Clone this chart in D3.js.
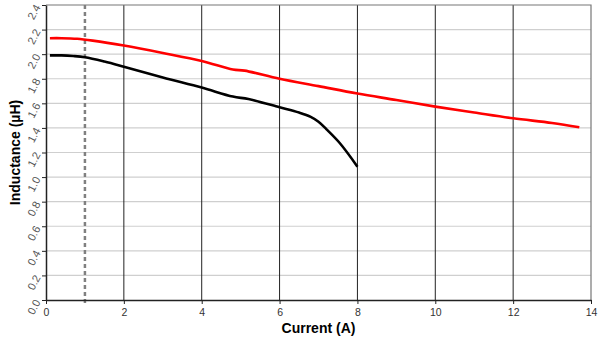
<!DOCTYPE html>
<html>
<head>
<meta charset="utf-8">
<script src="https://cdn.jsdelivr.net/npm/d3@7"></script>
<style>
  body { margin: 0; background: #fff; }
  svg { display: block; }
</style>
</head>
<body>
<div id="chart"></div>
<script>
// Data
const redCurrent = [0.1, 0.4, 0.8, 1.2, 2, 3, 4, 4.8, 5.1, 6, 7, 8, 9, 10, 11, 12, 13, 13.7];
const redInductance = [2.13, 2.13, 2.125, 2.11, 2.07, 2.01, 1.945, 1.875, 1.866, 1.80, 1.74, 1.68, 1.627, 1.573, 1.525, 1.478, 1.44, 1.405];

const blackCurrent = [0.1, 0.4, 0.7, 1, 1.5, 2, 3, 4, 4.8, 5.2, 6, 6.5, 6.8, 7.0, 7.2, 7.55, 8];
const blackInductance = [1.99, 1.99, 1.985, 1.975, 1.94, 1.898, 1.81, 1.728, 1.655, 1.635, 1.568, 1.525, 1.49, 1.45, 1.39, 1.275, 1.085];

const xTicks = [0, 2, 4, 6, 8, 10, 12, 14];
const yTicks = [0, 0.2, 0.4, 0.6, 0.8, 1.0, 1.2, 1.4, 1.6, 1.8, 2.0, 2.2, 2.4];
const dashedCurrent = 1;

const width = 600, height = 346;
const margin = { left: 46, right: 9, top: 5, bottom: 46 };

const svg = d3.select("#chart")
    .append("svg")
        .attr("width", width)
        .attr("height", height);

const xScale = d3.scaleLinear()
    .domain([0, 14])
    .range([margin.left, width - margin.right]);

const yScale = d3.scaleLinear()
    .domain([0, 2.4])
    .range([height - margin.bottom, margin.top]);

// Horizontal grid lines
svg.append("g")
    .selectAll("line")
    .data(yTicks.slice(1, -1))
    .join("line")
        .attr("x1", xScale(0))
        .attr("x2", xScale(14))
        .attr("y1", d => yScale(d))
        .attr("y2", d => yScale(d))
        .attr("stroke", "#cfcfcf")
        .attr("stroke-width", 1.2);

// Vertical grid lines
svg.append("g")
    .selectAll("line")
    .data(xTicks.slice(1, -1))
    .join("line")
        .attr("x1", d => xScale(d))
        .attr("x2", d => xScale(d))
        .attr("y1", yScale(0))
        .attr("y2", yScale(2.4))
        .attr("stroke", "#222")
        .attr("stroke-width", 1);

// Plot border (top and right)
svg.append("path")
    .attr("d", `M${xScale(0)},${yScale(2.4)}H${xScale(14)}V${yScale(0)}`)
    .attr("fill", "none")
    .attr("stroke", "#777")
    .attr("stroke-width", 1.2);

// Dashed marker line
svg.append("line")
    .attr("x1", xScale(dashedCurrent))
    .attr("x2", xScale(dashedCurrent))
    .attr("y1", yScale(2.4))
    .attr("y2", yScale(0) + 3)
    .attr("stroke", "#808080")
    .attr("stroke-width", 2.5)
    .attr("stroke-dasharray", "4,3");

// Axes
const xAxis = svg.append("g")
    .attr("transform", `translate(0, ${yScale(0)})`)
    .call(d3.axisBottom(xScale).tickValues(xTicks).tickSize(4).tickSizeOuter(0).tickFormat(d3.format("d")));

xAxis.select(".domain").attr("stroke", "#222").attr("stroke-width", 1.5);
xAxis.selectAll(".tick line").attr("stroke", "#222");
xAxis.selectAll("text")
    .attr("dy", "0.85em")
    .style("font-family", "'Liberation Sans', Arial, sans-serif")
    .style("font-size", "10.5px")
    .style("fill", "#333");

const yAxis = svg.append("g")
    .attr("transform", `translate(${xScale(0)}, 0)`)
    .call(d3.axisLeft(yScale).tickValues(yTicks).tickSize(4).tickSizeOuter(0).tickFormat(d3.format(".1f")));

yAxis.select(".domain").attr("stroke", "#222").attr("stroke-width", 1.5);
yAxis.selectAll(".tick line").attr("stroke", "#222");
yAxis.selectAll("text")
    .attr("x", -8)
    .attr("dy", "0.3em")
    .attr("transform", "rotate(-62, -8, 0)")
    .attr("text-anchor", "end")
    .style("font-family", "'Liberation Sans', Arial, sans-serif")
    .style("font-size", "11px")
    .style("fill", "#555");

// Curves
const line = d3.line()
    .x(d => xScale(d[0]))
    .y(d => yScale(d[1]))
    .curve(d3.curveCatmullRom.alpha(0.5));

svg.append("path")
    .datum(blackCurrent.map((c, i) => [c, blackInductance[i]]))
    .attr("d", line)
    .attr("fill", "none")
    .attr("stroke", "#000")
    .attr("stroke-width", 2.6);

svg.append("path")
    .datum(redCurrent.map((c, i) => [c, redInductance[i]]))
    .attr("d", line)
    .attr("fill", "none")
    .attr("stroke", "#ff0000")
    .attr("stroke-width", 2.6);

// Axis titles
svg.append("text")
    .text("Current (A)")
        .attr("x", (xScale(0) + xScale(14)) / 2)
        .attr("y", 333)
        .attr("text-anchor", "middle")
        .style("font-family", "'Liberation Sans', Arial, sans-serif")
        .style("font-size", "14px")
        .style("font-weight", "bold")
        .style("fill", "#000");

svg.append("text")
    .text("Inductance (µH)")
        .attr("transform", `translate(20, ${(yScale(0) + yScale(2.4)) / 2}) rotate(-90)`)
        .attr("text-anchor", "middle")
        .style("font-family", "'Liberation Sans', Arial, sans-serif")
        .style("font-size", "14px")
        .style("font-weight", "bold")
        .style("fill", "#000");
</script>
</body>
</html>
